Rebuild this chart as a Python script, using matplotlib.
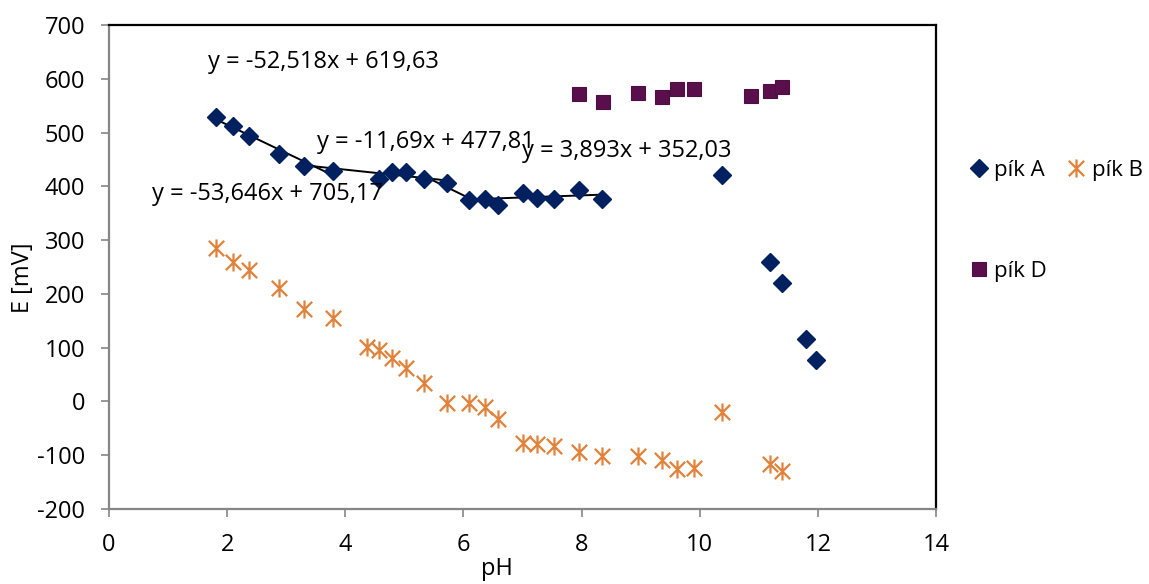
import matplotlib
matplotlib.use("Agg")
import matplotlib.pyplot as plt
from matplotlib.path import Path
import numpy as np

plt.rcParams['font.family'] = ['Open Sans', 'DejaVu Sans']
plt.rcParams['axes.unicode_minus'] = False

# ---- data ----
ph_A = [1.81, 2.10, 2.37, 2.87, 3.30, 3.79, 4.57, 4.79, 5.02, 5.34, 5.72, 6.09,
        6.37, 6.59, 7.00, 7.24, 7.54, 7.95, 8.35, 10.38, 11.19, 11.40, 11.80, 11.97]
E_A = [528, 513, 494, 461, 438, 429, 413, 427, 427, 414, 406, 375,
       377, 366, 387, 379, 377, 394, 376, 422, 259, 220, 116, 77]

ph_B = [1.81, 2.10, 2.37, 2.87, 3.30, 3.79, 4.36, 4.57, 4.79, 5.02, 5.34, 5.72,
        6.09, 6.37, 6.59, 7.00, 7.24, 7.54, 7.95, 8.35, 8.95, 9.37, 9.62, 9.91,
        10.38, 11.19, 11.40]
E_B = [286, 259, 245, 211, 171, 155, 102, 96, 80, 62, 34, -2,
       -3, -11, -32, -78, -80, -83, -94, -101, -102, -108, -126, -124,
       -20, -117, -130]

ph_D = [7.96, 8.36, 8.95, 9.37, 9.62, 9.91, 10.87, 11.19, 11.39]
E_D = [571, 557, 574, 567, 581, 581, 568, 578, 584]

# trendlines: slope, intercept, x-range, label
trend_slope = [-52.518, -11.69, -53.646, 3.893]
trend_icept = [619.63, 477.81, 705.17, 352.03]
trend_xmin = [1.81, 3.30, 5.34, 6.09]
trend_xmax = [3.79, 5.72, 6.09, 8.35]
trend_labels = ["y = -52,518x + 619,63", "y = -11,69x + 477,81",
                "y = -53,646x + 705,17", "y = 3,893x + 352,03"]
label_pos = [(1.68, 632), (3.52, 482), (0.72, 385), (6.99, 466)]

x_ticks = [0, 2, 4, 6, 8, 10, 12, 14]
y_ticks = [-200, -100, 0, 100, 200, 300, 400, 500, 600, 700]

# ---- style ----
col_A = '#002060'
col_B = '#E0823A'
col_D = '#5A0F4C'
gray = '#868686'
fs = 17
fs_leg = 16

star = Path([(0, -1), (0, 1), (-0.85, -0.85), (0.85, 0.85), (-0.85, 0.85), (0.85, -0.85)],
            [Path.MOVETO, Path.LINETO, Path.MOVETO, Path.LINETO, Path.MOVETO, Path.LINETO])

fig = plt.figure(figsize=(11.49, 5.84), dpi=100)
ax = fig.add_axes([109/1149, 1-509/584, (936-109)/1149, (509-25)/584])

for s, b, x0, x1 in zip(trend_slope, trend_icept, trend_xmin, trend_xmax):
    xs = np.array([x0, x1])
    ax.plot(xs, s*xs + b, color='black', lw=1.4, zorder=3)

hA, = ax.plot(ph_A, E_A, linestyle='none', marker='D', ms=8.8, color=col_A, label='pík A', zorder=4)
hB, = ax.plot(ph_B, E_B, linestyle='none', marker=star, ms=13, mew=1.6, color=col_B,
              markerfacecolor='none', label='pík B', zorder=4)
hD, = ax.plot(ph_D, E_D, linestyle='none', marker='s', ms=10, color=col_D,
              markeredgecolor='#4A1040', mew=0.8, label='pík D', zorder=4)

for lab, (lx, ly) in zip(trend_labels, label_pos):
    ax.text(lx, ly, lab, fontsize=fs, ha='left', va='center', color='black', zorder=5)

ax.set_xlim(0, 14)
ax.set_ylim(-200, 700)
ax.set_xticks(x_ticks)
ax.set_yticks(y_ticks)
ax.tick_params(axis='both', direction='out', length=6, width=1.2, color=gray,
               labelsize=fs, pad=11)

ax.spines['left'].set_color(gray)
ax.spines['bottom'].set_color(gray)
ax.spines['left'].set_linewidth(1.6)
ax.spines['bottom'].set_linewidth(1.6)
ax.spines['top'].set_color('black')
ax.spines['right'].set_color('black')
ax.spines['top'].set_linewidth(1.6)
ax.spines['right'].set_linewidth(1.6)

ax.set_xlabel('pH', fontsize=fs)
ax.set_ylabel('E [mV]', fontsize=fs)
ax.xaxis.set_label_coords((497-109)/827, -0.100)
ax.xaxis.label.set_va('top')
ax.yaxis.set_label_coords((23-109)/827, (509-278)/484)
ax.yaxis.label.set_va('center')

leg = fig.legend(handles=[hA, hD, hB], labels=['pík A', 'pík D', 'pík B'], ncol=2,
                 loc='upper left', bbox_to_anchor=(970/1149, 1-160/584), frameon=False,
                 fontsize=fs_leg, handlelength=0.8, handletextpad=0.3, columnspacing=0.9,
                 labelspacing=3.6, borderaxespad=0, borderpad=0)

fig.savefig('out.png', dpi=100)
